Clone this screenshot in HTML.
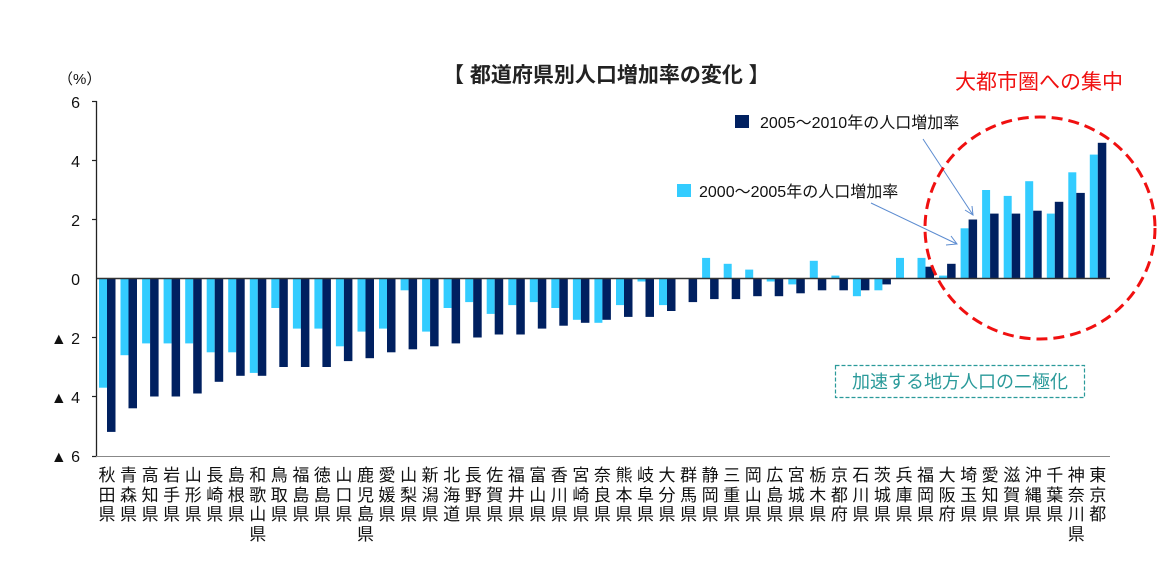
<!DOCTYPE html>
<html><head><meta charset="utf-8"><style>
body{margin:0;background:#fff;}
#w{position:relative;width:1169px;height:562px;overflow:hidden;font-family:"Liberation Sans","Noto Sans CJK JP",sans-serif;}
.lb{position:absolute;top:466px;width:20px;font-size:17px;line-height:19.5px;text-align:center;color:#111;word-break:break-all;}
</style></head><body><div id="w">
<svg width="1169" height="562" style="position:absolute;left:0;top:0" font-family="Liberation Sans, Noto Sans CJK JP, sans-serif">
<g id="bars"></g>
<line x1="96" y1="278.5" x2="1110" y2="278.5" stroke="#333" stroke-width="1.5"/>
<line x1="96.5" y1="101" x2="96.5" y2="457" stroke="#222" stroke-width="1.3"/>
<g stroke="#222" stroke-width="1.2">
<line x1="92" y1="101.5" x2="97" y2="101.5"/><line x1="92" y1="160.5" x2="97" y2="160.5"/><line x1="92" y1="219.5" x2="97" y2="219.5"/><line x1="92" y1="337.5" x2="97" y2="337.5"/><line x1="92" y1="396.5" x2="97" y2="396.5"/><line x1="92" y1="456.5" x2="97" y2="456.5"/>
</g>
<line x1="96" y1="456.5" x2="1110" y2="456.5" stroke="#888" stroke-width="1"/>
<g font-size="16" fill="#111" text-anchor="end">
<text x="80" y="108">6</text><text x="80" y="167">4</text><text x="80" y="226">2</text><text x="80" y="285">0</text>
<text x="80" y="344">▲ 2</text><text x="80" y="403">▲ 4</text><text x="80" y="462">▲ 6</text>
</g>
<text x="58" y="84" font-size="15" fill="#111">（%）</text>
<text x="443" y="82" font-size="21" font-weight="bold" fill="#222">【 都道府県別人口増加率の変化 】</text>
<text x="955" y="89" font-size="21" fill="#f01010">大都市圏への集中</text>
<rect x="735" y="115" width="14" height="13" fill="#002060"/>
<text x="760" y="128" font-size="16" fill="#111">2005～2010年の人口増加率</text>
<rect x="677" y="184" width="14" height="13" fill="#33ccff"/>
<text x="699" y="197" font-size="16" fill="#111">2000～2005年の人口増加率</text>
<g stroke="#5b8bd0" stroke-width="1" fill="none">
<line x1="923" y1="139" x2="973" y2="215"/><polyline points="965,210 973,215 972,206"/>
<line x1="871" y1="203" x2="957" y2="244"/><polyline points="946,245 957,244 951,236"/>
</g>
<ellipse cx="1040" cy="228" rx="115" ry="111" fill="none" stroke="#f01010" stroke-width="3" stroke-dasharray="11,6"/>
<rect x="835.5" y="365.5" width="249" height="32" fill="none" stroke="#2a9a9a" stroke-width="1.2" stroke-dasharray="4,2"/>
<text x="960" y="388" font-size="18" fill="#2a9a9a" text-anchor="middle">加速する地方人口の二極化</text>
</svg>
<div class="lb" style="left:97px">秋田県</div><div class="lb" style="left:118.5px">青森県</div><div class="lb" style="left:140.1px">高知県</div><div class="lb" style="left:161.6px">岩手県</div><div class="lb" style="left:183.2px">山形県</div><div class="lb" style="left:204.7px">長崎県</div><div class="lb" style="left:226.2px">島根県</div><div class="lb" style="left:247.8px">和歌山県</div><div class="lb" style="left:269.3px">鳥取県</div><div class="lb" style="left:290.9px">福島県</div><div class="lb" style="left:312.4px">徳島県</div><div class="lb" style="left:333.9px">山口県</div><div class="lb" style="left:355.5px">鹿児島県</div><div class="lb" style="left:377px">愛媛県</div><div class="lb" style="left:398.6px">山梨県</div><div class="lb" style="left:420.1px">新潟県</div><div class="lb" style="left:441.6px">北海道</div><div class="lb" style="left:463.2px">長野県</div><div class="lb" style="left:484.7px">佐賀県</div><div class="lb" style="left:506.3px">福井県</div><div class="lb" style="left:527.8px">富山県</div><div class="lb" style="left:549.3px">香川県</div><div class="lb" style="left:570.9px">宮崎県</div><div class="lb" style="left:592.4px">奈良県</div><div class="lb" style="left:614px">熊本県</div><div class="lb" style="left:635.5px">岐阜県</div><div class="lb" style="left:657px">大分県</div><div class="lb" style="left:678.6px">群馬県</div><div class="lb" style="left:700.1px">静岡県</div><div class="lb" style="left:721.7px">三重県</div><div class="lb" style="left:743.2px">岡山県</div><div class="lb" style="left:764.7px">広島県</div><div class="lb" style="left:786.3px">宮城県</div><div class="lb" style="left:807.8px">栃木県</div><div class="lb" style="left:829.4px">京都府</div><div class="lb" style="left:850.9px">石川県</div><div class="lb" style="left:872.4px">茨城県</div><div class="lb" style="left:894px">兵庫県</div><div class="lb" style="left:915.5px">福岡県</div><div class="lb" style="left:937.1px">大阪府</div><div class="lb" style="left:958.6px">埼玉県</div><div class="lb" style="left:980.1px">愛知県</div><div class="lb" style="left:1001.7px">滋賀県</div><div class="lb" style="left:1023.2px">沖縄県</div><div class="lb" style="left:1044.8px">千葉県</div><div class="lb" style="left:1066.3px">神奈川県</div><div class="lb" style="left:1087.8px">東京都</div>
</div>
<script>
var d=[[-3.7,-5.2],[-2.6,-4.4],[-2.2,-4.0],[-2.2,-4.0],[-2.2,-3.9],[-2.5,-3.5],[-2.5,-3.3],[-3.2,-3.3],[-1.0,-3.0],[-1.7,-3.0],[-1.7,-3.0],[-2.3,-2.8],[-1.8,-2.7],[-1.7,-2.5],[-0.4,-2.4],[-1.8,-2.3],[-1.0,-2.2],[-0.8,-2.0],[-1.2,-1.9],[-0.9,-1.9],[-0.8,-1.7],[-1.0,-1.6],[-1.4,-1.5],[-1.5,-1.4],[-0.9,-1.3],[-0.1,-1.3],[-0.9,-1.1],[0,-0.8],[0.7,-0.7],[0.5,-0.7],[0.3,-0.6],[-0.1,-0.6],[-0.2,-0.5],[0.6,-0.4],[0.1,-0.4],[-0.6,-0.4],[-0.4,-0.2],[0.7,0],[0.7,0.4],[0.1,0.5],[1.7,2.0],[3.0,2.2],[2.8,2.2],[3.3,2.3],[2.2,2.6],[3.6,2.9],[4.2,4.6]];
var g=document.getElementById('bars'),s='',z=278.5,k=29.5;
function r(x,w,v,c){if(!v)return'';var h=Math.abs(v)*k,y=v>0?z-h:z;return '<rect x="'+x.toFixed(1)+'" y="'+y.toFixed(1)+'" width="'+w+'" height="'+h.toFixed(1)+'" fill="'+c+'"/>';}
d.forEach(function(p,i){var c=107+21.54*i;s+=r(c-8,8,p[0],'#33ccff')+r(c,8.5,p[1],'#002060');});
g.innerHTML=s;
</script>
</body></html>
